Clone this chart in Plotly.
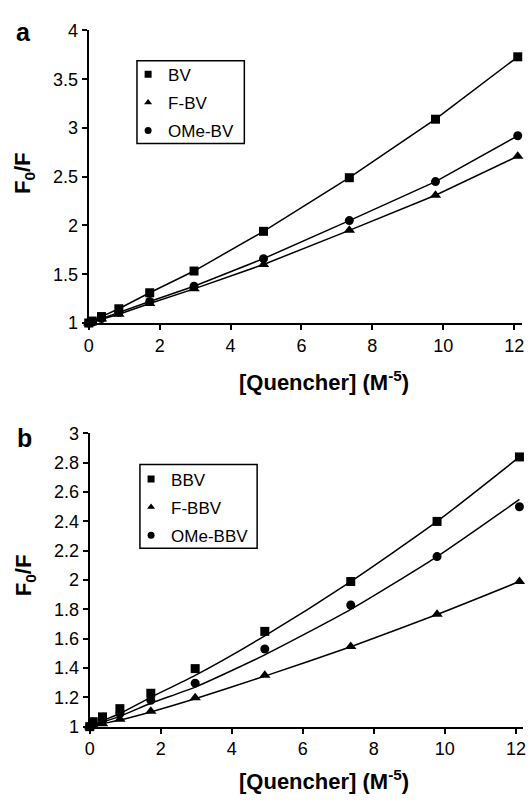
import plotly.graph_objects as go

# ---------------- data ----------------
conc = [0, 0.1, 0.36, 0.85, 1.72, 2.97, 4.93, 7.35, 9.78, 12.1]

# panel a
bv = [1.0, 1.02, 1.066, 1.146, 1.31, 1.533, 1.94, 2.49, 3.09, 3.73]
f_bv = [1.0, 1.01, 1.04, 1.09, 1.20, 1.35, 1.60, 1.95, 2.31, 2.71]
ome_bv = [1.0, 1.01, 1.045, 1.11, 1.22, 1.377, 1.66, 2.05, 2.45, 2.92]

# panel b (measured points)
bbv = [1.0, 1.034, 1.067, 1.123, 1.228, 1.396, 1.65, 1.99, 2.40, 2.84]
f_bbv = [1.0, 1.01, 1.02, 1.05, 1.105, 1.197, 1.35, 1.547, 1.767, 1.99]
ome_bbv = [1.0, 1.02, 1.04, 1.09, 1.18, 1.297, 1.53, 1.83, 2.16, 2.50]

# panel b (fitted curves)
bbv_fit = [1.0, 1.01, 1.04, 1.09, 1.20, 1.35, 1.62, 1.99, 2.40, 2.84]
f_bbv_fit = [1.0, 1.005, 1.02, 1.045, 1.10, 1.19, 1.345, 1.545, 1.765, 1.99]
ome_bbv_fit = [1.0, 1.01, 1.03, 1.07, 1.16, 1.27, 1.49, 1.80, 2.16, 2.55]

names_a = ["BV", "F-BV", "OMe-BV"]
names_b = ["BBV", "F-BBV", "OMe-BBV"]
symbols = ["square", "triangle-up", "circle"]
x_ticks = [0, 2, 4, 6, 8, 10, 12]

# ---------------- figure ----------------
W, H = 530, 802
FONT = "Liberation Sans, Arial, Helvetica, sans-serif"
fig = go.Figure()

msize = {"square": 9, "triangle-up": 10, "circle": 9}

def add_series(xa, ya, x, y, symbol, line=True):
    fig.add_trace(go.Scatter(
        x=x, y=y, xaxis=xa, yaxis=ya,
        mode="lines+markers" if line else "markers",
        line=dict(color="black", width=1.5),
        marker=dict(symbol=symbol, size=msize[symbol], color="black"),
        showlegend=False, cliponaxis=False, hoverinfo="skip"))

def add_fit(xa, ya, x, y):
    fig.add_trace(go.Scatter(
        x=x, y=y, xaxis=xa, yaxis=ya, mode="lines",
        line=dict(color="black", width=1.5, shape="spline", smoothing=0.6),
        showlegend=False, cliponaxis=False, hoverinfo="skip"))

def add_legend_entry(name, symbol, legend):
    fig.add_trace(go.Scatter(
        x=[None], y=[None], mode="markers", name=name,
        marker=dict(symbol=symbol, size=7, color="black"),
        legend=legend, legendgroup=legend + name,
        showlegend=True, xaxis="x", yaxis="y"))

# panel a
for y, s in zip([bv, f_bv, ome_bv], symbols):
    add_series("x", "y", conc, y, s)
for n, s in zip(names_a, symbols):
    add_legend_entry(n, s, "legend")

# panel b
for y, s in zip([bbv_fit, f_bbv_fit, ome_bbv_fit], symbols):
    add_fit("x2", "y2", conc, y)
for y, s in zip([bbv, f_bbv, ome_bbv], symbols):
    add_series("x2", "y2", conc, y, s, line=False)
for n, s in zip(names_b, symbols):
    add_legend_entry(n, s, "legend2")

def px_x(p):
    return p / W

def px_y(p):
    return 1 - p / H

axis_common = dict(
    showline=True, linecolor="black", linewidth=2,
    ticks="outside", ticklen=5, tickwidth=1.5, tickcolor="black",
    showgrid=False, zeroline=False,
    tickfont=dict(family=FONT, size=18, color="black"),
    fixedrange=True,
)

legend_common = dict(
    xanchor="left", yanchor="top",
    borderwidth=0, bgcolor="rgba(0,0,0,0)",
    font=dict(family=FONT, size=17, color="black"),
    itemwidth=30, tracegroupgap=3,
)

fig.update_layout(
    width=W, height=H,
    margin=dict(l=0, r=0, t=0, b=0),
    paper_bgcolor="white", plot_bgcolor="white",
    font=dict(family=FONT, color="black"),
    xaxis=dict(domain=[px_x(85), px_x(525)], range=[0, 440 / 36.0],
               tickvals=x_ticks, anchor="y", **axis_common),
    yaxis=dict(domain=[px_y(321), px_y(21)], range=[1, 4], dtick=0.5,
               tick0=1, anchor="x", **axis_common),
    xaxis2=dict(domain=[px_x(86), px_x(526)], range=[0, 440 / 36.06],
                tickvals=x_ticks, anchor="y2", **axis_common),
    yaxis2=dict(domain=[px_y(735), px_y(434.3)], range=[1, 3], dtick=0.2,
                tick0=1, anchor="x2", **axis_common),
    legend=dict(x=px_x(125), y=px_y(48), **legend_common),
    legend2=dict(x=px_x(128), y=px_y(463), **legend_common),
)

# legend frames
for (x0, y0, x1, y1) in [(134, 52, 243, 137), (137, 466, 256, 552)]:
    fig.add_shape(type="rect", xref="paper", yref="paper",
                  x0=px_x(x0), x1=px_x(x1), y0=px_y(y1), y1=px_y(y0),
                  line=dict(color="black", width=1.5), layer="above")

ann = []
# panel letters
ann.append(dict(text="<b>a</b>", x=px_x(19), y=px_y(23), showarrow=False,
                font=dict(family=FONT, size=25, color="black")))
ann.append(dict(text="<b>b</b>", x=px_x(20), y=px_y(439), showarrow=False,
                font=dict(family=FONT, size=25, color="black")))
# y titles
for yc in [167.5, 580]:
    ann.append(dict(text="<b>F<sub>0</sub>/F</b>", x=px_x(20), y=px_y(yc),
                    textangle=-90, showarrow=False,
                    font=dict(family=FONT, size=22, color="black")))
# x titles
for yc in [380, 790]:
    ann.append(dict(text="<b>[Quencher] (M<sup>-5</sup>)</b>", x=px_x(324),
                    y=px_y(yc), showarrow=False,
                    font=dict(family=FONT, size=22, color="black")))
for a in ann:
    a.update(xref="paper", yref="paper", xanchor="center", yanchor="middle")
fig.update_layout(annotations=ann)

fig.write_html("out.html", config={"displayModeBar": False},
               post_script="document.body.style.margin='0';"
                           "document.body.style.overflow='hidden';")
